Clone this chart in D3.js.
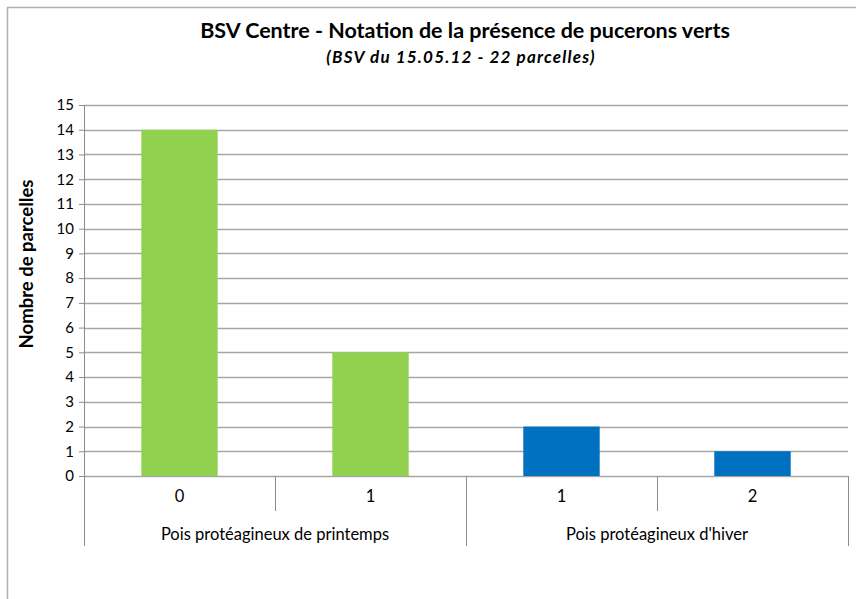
<!DOCTYPE html>
<html>
<head>
<meta charset="utf-8">
<script src="https://cdn.jsdelivr.net/npm/d3@7"></script>
<style>
  body { margin: 0; background: #fff; }
  svg { font-family: Lato, 'Liberation Sans', sans-serif; }
</style>
</head>
<body>
<svg id="chart" width="856" height="599"></svg>
<script>
const title = 'BSV Centre - Notation de la présence de pucerons verts'
const subtitle = '(BSV du 15.05.12 - 22 parcelles)'
const yLabel = 'Nombre de parcelles'
const groups = ['Pois protéagineux de printemps', "Pois protéagineux d'hiver"]
const categories = ['0', '1', '1', '2']
const categoryGroup = [0, 0, 1, 1]
const values = [14, 5, 2, 1]
const groupColors = ['#92d050', '#0070c0']
const yTicks = d3.range(0, 16)

const svg = d3.select('#chart')
const margin = { top: 105, right: 8, bottom: 123, left: 84 }
const width = +svg.attr('width') - margin.left - margin.right
const height = +svg.attr('height') - margin.top - margin.bottom

// chart frame
svg.append('path')
    .attr('d', 'M7.5,620 V7.5 H860')
    .attr('fill', 'none')
    .attr('stroke', '#b0b0b0')
    .attr('stroke-width', 1.5)

svg.append('text')
    .attr('x', margin.left + width / 2 - 1)
    .attr('y', 38)
    .attr('text-anchor', 'middle')
    .attr('font-size', 21.5)
    .attr('font-weight', 'bold')
    .attr('fill', '#000')
    .text(title)

svg.append('text')
    .attr('x', margin.left + width / 2 - 5)
    .attr('y', 63)
    .attr('text-anchor', 'middle')
    .attr('font-size', 17)
    .attr('font-weight', 'bold')
    .attr('font-style', 'italic')
    .attr('letter-spacing', 1.2)
    .attr('fill', '#000')
    .text(subtitle)

const g = svg.append('g')
    .attr('transform', `translate(${margin.left},${margin.top})`)

const idx = categories.map((d, i) => i)
const x = d3.scaleBand().domain(idx).range([0, width]).paddingInner(0.6).paddingOuter(0.3)
const xStep = width / categories.length
const y = d3.scaleLinear().domain([0, 15]).range([height, 0])

// grid lines
g.append('g')
    .selectAll('line')
    .data(yTicks)
    .join('line')
    .attr('x1', 0)
    .attr('x2', width)
    .attr('y1', d => Math.round(y(d)) + 0.5)
    .attr('y2', d => Math.round(y(d)) + 0.5)
    .attr('stroke', '#a6a6a6')
    .attr('stroke-width', 1.3)

// left axis (y)
const yAxis = g.append('g')
    .call(d3.axisLeft(y).tickValues(yTicks).tickSize(5).tickPadding(5).tickFormat(d3.format('d')))
yAxis.select('.domain').remove()
yAxis.selectAll('line').attr('stroke', '#8c8c8c')
yAxis.selectAll('text').attr('font-size', 15).attr('fill', '#000').attr('font-family', 'Lato, sans-serif')

// bars
g.selectAll('rect.bar')
    .data(values)
    .join('rect')
    .attr('class', 'bar')
    .attr('x', (d, i) => x(i))
    .attr('width', x.bandwidth())
    .attr('y', d => y(d))
    .attr('height', d => y(0) - y(d))
    .attr('fill', (d, i) => groupColors[categoryGroup[i]])

// vertical axis line
g.append('line')
    .attr('x1', 0.5).attr('x2', 0.5)
    .attr('y1', 0).attr('y2', height + 70)
    .attr('stroke', '#8c8c8c')

// category separators
g.append('g')
    .selectAll('line')
    .data(d3.range(1, categories.length + 1))
    .join('line')
    .attr('x1', d => Math.round(d * xStep) + 0.5)
    .attr('x2', d => Math.round(d * xStep) + 0.5)
    .attr('y1', height)
    .attr('y2', d => (d === categories.length || categoryGroup[d] !== categoryGroup[d - 1]) ? height + 70 : height + 35)
    .attr('stroke', '#8c8c8c')

// category labels
g.append('g')
    .selectAll('text')
    .data(categories)
    .join('text')
    .attr('x', (d, i) => x(i) + x.bandwidth() / 2)
    .attr('y', height + 26)
    .attr('text-anchor', 'middle')
    .attr('font-size', 16.5)
    .attr('fill', '#000')
    .text(d => d)

// group labels
g.append('g')
    .selectAll('text')
    .data(groups)
    .join('text')
    .attr('x', (d, gi) => {
        const members = idx.filter(i => categoryGroup[i] === gi)
        return (members[0] + members[members.length - 1] + 1) / 2 * xStep
    })
    .attr('y', height + 64)
    .attr('text-anchor', 'middle')
    .attr('font-size', 16.5)
    .attr('fill', '#000')
    .text(d => d)

// y label
svg.append('text')
    .attr('transform', `translate(33,264) rotate(-90)`)
    .attr('text-anchor', 'middle')
    .attr('font-size', 18.5)
    .attr('font-weight', 'bold')
    .attr('fill', '#000')
    .text(yLabel)
</script>
</body>
</html>
